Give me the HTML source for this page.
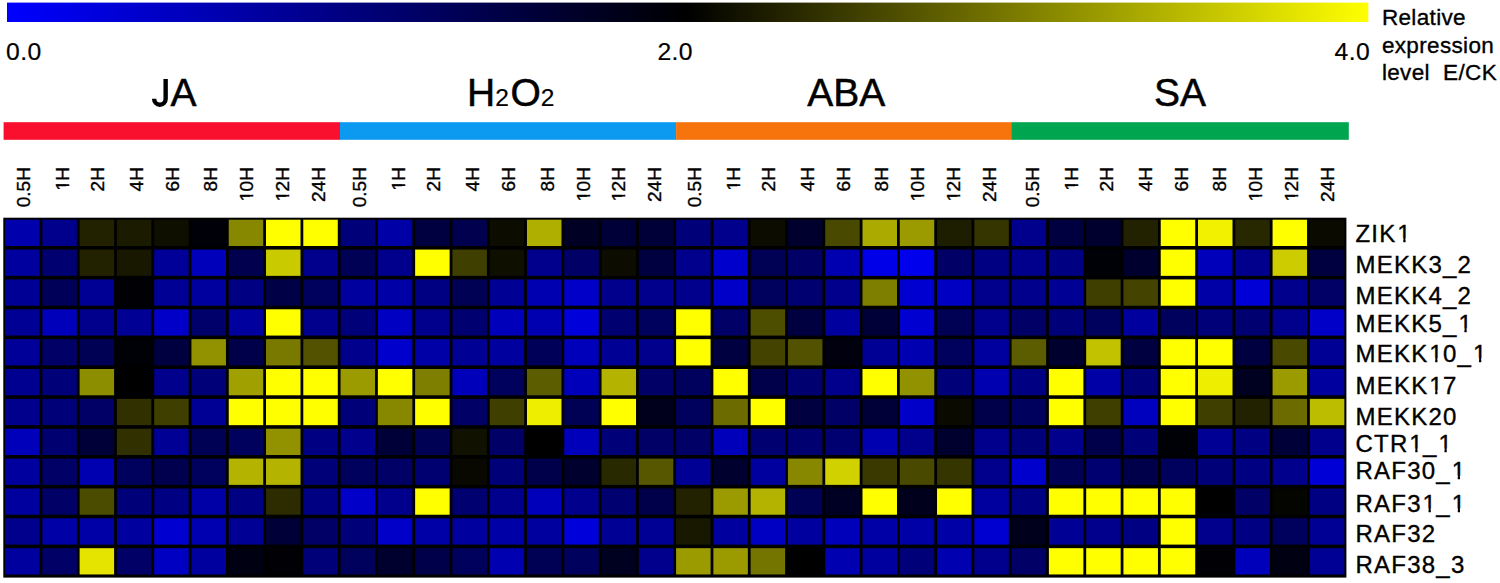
<!DOCTYPE html>
<html><head><meta charset="utf-8"><title>heatmap</title>
<style>
html,body{margin:0;padding:0;background:#fff;}
body{width:1500px;height:583px;position:relative;overflow:hidden;font-family:"Liberation Sans",sans-serif;color:#000;}
svg{position:absolute;left:0;top:0;}
.t{position:absolute;white-space:pre;line-height:1;}
.num{font-size:24.7px;letter-spacing:0.4px;-webkit-text-stroke:0.2px #000;}
.grp{font-size:39px;-webkit-text-stroke:0.5px #000;}
.leg{font-size:22.5px;letter-spacing:0.35px;-webkit-text-stroke:0.35px #000;}
.row{font-size:24px;letter-spacing:1.25px;left:1355.4px;-webkit-text-stroke:0.35px #000;}
.cl{font-size:19.1px;transform-origin:0 0;transform:rotate(-90deg);width:60px;text-align:right;letter-spacing:0px;-webkit-text-stroke:0.35px #000;}
.o{display:inline-block;position:relative;left:0.035em;clip-path:polygon(-0.1em -0.3em,1.2em -0.3em,1.2em 0.69em,0.3415em 0.69em,0.3415em 1.3em,0.2505em 1.3em,0.2505em 0.69em,-0.1em 0.69em);}
.sub{font-size:24.5px;-webkit-text-stroke:0.2px #000;}
</style></head><body>
<svg width="1500" height="583" viewBox="0 0 1500 583" shape-rendering="auto">
<defs><linearGradient id="g" x1="0" x2="1" y1="0" y2="0"><stop offset="0" stop-color="#0000ff"/><stop offset="0.5" stop-color="#000000"/><stop offset="1" stop-color="#ffff00"/></linearGradient></defs>
<rect x="7" y="2.6" width="1361.3" height="19.4" fill="url(#g)"/>
<rect x="3.6" y="122.2" width="336.4" height="17.6" fill="#f9102e"/>
<rect x="340.0" y="122.2" width="336.1" height="17.6" fill="#0c9af0"/>
<rect x="676.1" y="122.2" width="335.1" height="17.6" fill="#f7730c"/>
<rect x="1011.2" y="122.2" width="337.6" height="17.6" fill="#00a550"/>
<rect x="3.3" y="217.7" width="1343.1" height="359.9" fill="#000"/>
<g><rect x="5.05" y="219.70" width="34.5" height="26.3" fill="#0000ac"/><rect x="42.33" y="219.70" width="34.5" height="26.3" fill="#00008c"/><rect x="79.61" y="219.70" width="34.5" height="26.3" fill="#222200"/><rect x="116.89" y="219.70" width="34.5" height="26.3" fill="#1b1b00"/><rect x="154.17" y="219.70" width="34.5" height="26.3" fill="#0f0f00"/><rect x="191.45" y="219.70" width="34.5" height="26.3" fill="#000009"/><rect x="228.73" y="219.70" width="34.5" height="26.3" fill="#888800"/><rect x="266.01" y="219.70" width="34.5" height="26.3" fill="#ffff00"/><rect x="303.29" y="219.70" width="34.5" height="26.3" fill="#ffff00"/><rect x="340.57" y="219.70" width="34.5" height="26.3" fill="#000079"/><rect x="377.85" y="219.70" width="34.5" height="26.3" fill="#0000a7"/><rect x="415.13" y="219.70" width="34.5" height="26.3" fill="#000041"/><rect x="452.41" y="219.70" width="34.5" height="26.3" fill="#00004f"/><rect x="489.69" y="219.70" width="34.5" height="26.3" fill="#0c0c00"/><rect x="526.97" y="219.70" width="34.5" height="26.3" fill="#afaf00"/><rect x="564.25" y="219.70" width="34.5" height="26.3" fill="#000025"/><rect x="601.53" y="219.70" width="34.5" height="26.3" fill="#000038"/><rect x="638.81" y="219.70" width="34.5" height="26.3" fill="#000038"/><rect x="676.09" y="219.70" width="34.5" height="26.3" fill="#000079"/><rect x="713.37" y="219.70" width="34.5" height="26.3" fill="#00008c"/><rect x="750.65" y="219.70" width="34.5" height="26.3" fill="#0c0c00"/><rect x="787.93" y="219.70" width="34.5" height="26.3" fill="#00002e"/><rect x="825.21" y="219.70" width="34.5" height="26.3" fill="#494900"/><rect x="862.49" y="219.70" width="34.5" height="26.3" fill="#aaaa00"/><rect x="899.77" y="219.70" width="34.5" height="26.3" fill="#9b9b00"/><rect x="937.05" y="219.70" width="34.5" height="26.3" fill="#1d1d00"/><rect x="974.33" y="219.70" width="34.5" height="26.3" fill="#353500"/><rect x="1011.61" y="219.70" width="34.5" height="26.3" fill="#00008c"/><rect x="1048.89" y="219.70" width="34.5" height="26.3" fill="#000041"/><rect x="1086.17" y="219.70" width="34.5" height="26.3" fill="#00002e"/><rect x="1123.45" y="219.70" width="34.5" height="26.3" fill="#222200"/><rect x="1160.73" y="219.70" width="34.5" height="26.3" fill="#ffff00"/><rect x="1198.01" y="219.70" width="34.5" height="26.3" fill="#f1f100"/><rect x="1235.29" y="219.70" width="34.5" height="26.3" fill="#272700"/><rect x="1272.57" y="219.70" width="34.5" height="26.3" fill="#ffff00"/><rect x="1309.85" y="219.70" width="34.5" height="26.3" fill="#0a0a00"/></g>
<g><rect x="5.05" y="249.56" width="34.5" height="26.3" fill="#00009e"/><rect x="42.33" y="249.56" width="34.5" height="26.3" fill="#000070"/><rect x="79.61" y="249.56" width="34.5" height="26.3" fill="#222200"/><rect x="116.89" y="249.56" width="34.5" height="26.3" fill="#181800"/><rect x="154.17" y="249.56" width="34.5" height="26.3" fill="#000099"/><rect x="191.45" y="249.56" width="34.5" height="26.3" fill="#0000ba"/><rect x="228.73" y="249.56" width="34.5" height="26.3" fill="#00004f"/><rect x="266.01" y="249.56" width="34.5" height="26.3" fill="#caca00"/><rect x="303.29" y="249.56" width="34.5" height="26.3" fill="#00008c"/><rect x="340.57" y="249.56" width="34.5" height="26.3" fill="#000054"/><rect x="377.85" y="249.56" width="34.5" height="26.3" fill="#00008c"/><rect x="415.13" y="249.56" width="34.5" height="26.3" fill="#ffff00"/><rect x="452.41" y="249.56" width="34.5" height="26.3" fill="#3f3f00"/><rect x="489.69" y="249.56" width="34.5" height="26.3" fill="#0f0f00"/><rect x="526.97" y="249.56" width="34.5" height="26.3" fill="#00008c"/><rect x="564.25" y="249.56" width="34.5" height="26.3" fill="#000066"/><rect x="601.53" y="249.56" width="34.5" height="26.3" fill="#0c0c00"/><rect x="638.81" y="249.56" width="34.5" height="26.3" fill="#000041"/><rect x="676.09" y="249.56" width="34.5" height="26.3" fill="#00008c"/><rect x="713.37" y="249.56" width="34.5" height="26.3" fill="#0000cd"/><rect x="750.65" y="249.56" width="34.5" height="26.3" fill="#000054"/><rect x="787.93" y="249.56" width="34.5" height="26.3" fill="#000066"/><rect x="825.21" y="249.56" width="34.5" height="26.3" fill="#0000b1"/><rect x="862.49" y="249.56" width="34.5" height="26.3" fill="#0000e8"/><rect x="899.77" y="249.56" width="34.5" height="26.3" fill="#0000ec"/><rect x="937.05" y="249.56" width="34.5" height="26.3" fill="#000066"/><rect x="974.33" y="249.56" width="34.5" height="26.3" fill="#000082"/><rect x="1011.61" y="249.56" width="34.5" height="26.3" fill="#00008c"/><rect x="1048.89" y="249.56" width="34.5" height="26.3" fill="#000082"/><rect x="1086.17" y="249.56" width="34.5" height="26.3" fill="#000007"/><rect x="1123.45" y="249.56" width="34.5" height="26.3" fill="#00002e"/><rect x="1160.73" y="249.56" width="34.5" height="26.3" fill="#ffff00"/><rect x="1198.01" y="249.56" width="34.5" height="26.3" fill="#0000ba"/><rect x="1235.29" y="249.56" width="34.5" height="26.3" fill="#00008c"/><rect x="1272.57" y="249.56" width="34.5" height="26.3" fill="#cccc00"/><rect x="1309.85" y="249.56" width="34.5" height="26.3" fill="#000041"/></g>
<g><rect x="5.05" y="279.42" width="34.5" height="26.3" fill="#000095"/><rect x="42.33" y="279.42" width="34.5" height="26.3" fill="#000058"/><rect x="79.61" y="279.42" width="34.5" height="26.3" fill="#000095"/><rect x="116.89" y="279.42" width="34.5" height="26.3" fill="#000005"/><rect x="154.17" y="279.42" width="34.5" height="26.3" fill="#000095"/><rect x="191.45" y="279.42" width="34.5" height="26.3" fill="#00009e"/><rect x="228.73" y="279.42" width="34.5" height="26.3" fill="#000082"/><rect x="266.01" y="279.42" width="34.5" height="26.3" fill="#000046"/><rect x="303.29" y="279.42" width="34.5" height="26.3" fill="#00005d"/><rect x="340.57" y="279.42" width="34.5" height="26.3" fill="#00009e"/><rect x="377.85" y="279.42" width="34.5" height="26.3" fill="#0000a7"/><rect x="415.13" y="279.42" width="34.5" height="26.3" fill="#000082"/><rect x="452.41" y="279.42" width="34.5" height="26.3" fill="#000054"/><rect x="489.69" y="279.42" width="34.5" height="26.3" fill="#000095"/><rect x="526.97" y="279.42" width="34.5" height="26.3" fill="#0000b1"/><rect x="564.25" y="279.42" width="34.5" height="26.3" fill="#0000c8"/><rect x="601.53" y="279.42" width="34.5" height="26.3" fill="#00008c"/><rect x="638.81" y="279.42" width="34.5" height="26.3" fill="#00008c"/><rect x="676.09" y="279.42" width="34.5" height="26.3" fill="#00008c"/><rect x="713.37" y="279.42" width="34.5" height="26.3" fill="#0000c8"/><rect x="750.65" y="279.42" width="34.5" height="26.3" fill="#00005d"/><rect x="787.93" y="279.42" width="34.5" height="26.3" fill="#000070"/><rect x="825.21" y="279.42" width="34.5" height="26.3" fill="#00008c"/><rect x="862.49" y="279.42" width="34.5" height="26.3" fill="#7e7e00"/><rect x="899.77" y="279.42" width="34.5" height="26.3" fill="#0000d1"/><rect x="937.05" y="279.42" width="34.5" height="26.3" fill="#0000c3"/><rect x="974.33" y="279.42" width="34.5" height="26.3" fill="#00008c"/><rect x="1011.61" y="279.42" width="34.5" height="26.3" fill="#00008c"/><rect x="1048.89" y="279.42" width="34.5" height="26.3" fill="#000095"/><rect x="1086.17" y="279.42" width="34.5" height="26.3" fill="#3f3f00"/><rect x="1123.45" y="279.42" width="34.5" height="26.3" fill="#444400"/><rect x="1160.73" y="279.42" width="34.5" height="26.3" fill="#ffff00"/><rect x="1198.01" y="279.42" width="34.5" height="26.3" fill="#0000a7"/><rect x="1235.29" y="279.42" width="34.5" height="26.3" fill="#0000d6"/><rect x="1272.57" y="279.42" width="34.5" height="26.3" fill="#00008c"/><rect x="1309.85" y="279.42" width="34.5" height="26.3" fill="#000066"/></g>
<g><rect x="5.05" y="309.28" width="34.5" height="26.3" fill="#000095"/><rect x="42.33" y="309.28" width="34.5" height="26.3" fill="#0000ba"/><rect x="79.61" y="309.28" width="34.5" height="26.3" fill="#00008c"/><rect x="116.89" y="309.28" width="34.5" height="26.3" fill="#000095"/><rect x="154.17" y="309.28" width="34.5" height="26.3" fill="#0000c8"/><rect x="191.45" y="309.28" width="34.5" height="26.3" fill="#00006b"/><rect x="228.73" y="309.28" width="34.5" height="26.3" fill="#00009e"/><rect x="266.01" y="309.28" width="34.5" height="26.3" fill="#ffff00"/><rect x="303.29" y="309.28" width="34.5" height="26.3" fill="#00008c"/><rect x="340.57" y="309.28" width="34.5" height="26.3" fill="#000079"/><rect x="377.85" y="309.28" width="34.5" height="26.3" fill="#0000c3"/><rect x="415.13" y="309.28" width="34.5" height="26.3" fill="#00008c"/><rect x="452.41" y="309.28" width="34.5" height="26.3" fill="#000070"/><rect x="489.69" y="309.28" width="34.5" height="26.3" fill="#0000ba"/><rect x="526.97" y="309.28" width="34.5" height="26.3" fill="#0000b1"/><rect x="564.25" y="309.28" width="34.5" height="26.3" fill="#0000db"/><rect x="601.53" y="309.28" width="34.5" height="26.3" fill="#000070"/><rect x="638.81" y="309.28" width="34.5" height="26.3" fill="#00005d"/><rect x="676.09" y="309.28" width="34.5" height="26.3" fill="#ffff00"/><rect x="713.37" y="309.28" width="34.5" height="26.3" fill="#000066"/><rect x="750.65" y="309.28" width="34.5" height="26.3" fill="#4e4e00"/><rect x="787.93" y="309.28" width="34.5" height="26.3" fill="#000041"/><rect x="825.21" y="309.28" width="34.5" height="26.3" fill="#00009e"/><rect x="862.49" y="309.28" width="34.5" height="26.3" fill="#000038"/><rect x="899.77" y="309.28" width="34.5" height="26.3" fill="#0000d1"/><rect x="937.05" y="309.28" width="34.5" height="26.3" fill="#000054"/><rect x="974.33" y="309.28" width="34.5" height="26.3" fill="#00008c"/><rect x="1011.61" y="309.28" width="34.5" height="26.3" fill="#000066"/><rect x="1048.89" y="309.28" width="34.5" height="26.3" fill="#000079"/><rect x="1086.17" y="309.28" width="34.5" height="26.3" fill="#00005d"/><rect x="1123.45" y="309.28" width="34.5" height="26.3" fill="#00009e"/><rect x="1160.73" y="309.28" width="34.5" height="26.3" fill="#00005d"/><rect x="1198.01" y="309.28" width="34.5" height="26.3" fill="#000079"/><rect x="1235.29" y="309.28" width="34.5" height="26.3" fill="#000070"/><rect x="1272.57" y="309.28" width="34.5" height="26.3" fill="#00008c"/><rect x="1309.85" y="309.28" width="34.5" height="26.3" fill="#0000c8"/></g>
<g><rect x="5.05" y="339.14" width="34.5" height="26.3" fill="#000099"/><rect x="42.33" y="339.14" width="34.5" height="26.3" fill="#000066"/><rect x="79.61" y="339.14" width="34.5" height="26.3" fill="#000054"/><rect x="116.89" y="339.14" width="34.5" height="26.3" fill="#000007"/><rect x="154.17" y="339.14" width="34.5" height="26.3" fill="#000041"/><rect x="191.45" y="339.14" width="34.5" height="26.3" fill="#929200"/><rect x="228.73" y="339.14" width="34.5" height="26.3" fill="#00004a"/><rect x="266.01" y="339.14" width="34.5" height="26.3" fill="#797900"/><rect x="303.29" y="339.14" width="34.5" height="26.3" fill="#525200"/><rect x="340.57" y="339.14" width="34.5" height="26.3" fill="#00008c"/><rect x="377.85" y="339.14" width="34.5" height="26.3" fill="#0000cd"/><rect x="415.13" y="339.14" width="34.5" height="26.3" fill="#0000a7"/><rect x="452.41" y="339.14" width="34.5" height="26.3" fill="#000095"/><rect x="489.69" y="339.14" width="34.5" height="26.3" fill="#00009e"/><rect x="526.97" y="339.14" width="34.5" height="26.3" fill="#000058"/><rect x="564.25" y="339.14" width="34.5" height="26.3" fill="#0000ba"/><rect x="601.53" y="339.14" width="34.5" height="26.3" fill="#000095"/><rect x="638.81" y="339.14" width="34.5" height="26.3" fill="#00008c"/><rect x="676.09" y="339.14" width="34.5" height="26.3" fill="#ffff00"/><rect x="713.37" y="339.14" width="34.5" height="26.3" fill="#000041"/><rect x="750.65" y="339.14" width="34.5" height="26.3" fill="#444400"/><rect x="787.93" y="339.14" width="34.5" height="26.3" fill="#525200"/><rect x="825.21" y="339.14" width="34.5" height="26.3" fill="#00000e"/><rect x="862.49" y="339.14" width="34.5" height="26.3" fill="#000095"/><rect x="899.77" y="339.14" width="34.5" height="26.3" fill="#0000b1"/><rect x="937.05" y="339.14" width="34.5" height="26.3" fill="#00005d"/><rect x="974.33" y="339.14" width="34.5" height="26.3" fill="#00009e"/><rect x="1011.61" y="339.14" width="34.5" height="26.3" fill="#5c5c00"/><rect x="1048.89" y="339.14" width="34.5" height="26.3" fill="#00002e"/><rect x="1086.17" y="339.14" width="34.5" height="26.3" fill="#c2c200"/><rect x="1123.45" y="339.14" width="34.5" height="26.3" fill="#000041"/><rect x="1160.73" y="339.14" width="34.5" height="26.3" fill="#ffff00"/><rect x="1198.01" y="339.14" width="34.5" height="26.3" fill="#ffff00"/><rect x="1235.29" y="339.14" width="34.5" height="26.3" fill="#000041"/><rect x="1272.57" y="339.14" width="34.5" height="26.3" fill="#494900"/><rect x="1309.85" y="339.14" width="34.5" height="26.3" fill="#000095"/></g>
<g><rect x="5.05" y="369.00" width="34.5" height="26.3" fill="#000090"/><rect x="42.33" y="369.00" width="34.5" height="26.3" fill="#000079"/><rect x="79.61" y="369.00" width="34.5" height="26.3" fill="#8d8d00"/><rect x="116.89" y="369.00" width="34.5" height="26.3" fill="#000000"/><rect x="154.17" y="369.00" width="34.5" height="26.3" fill="#00008c"/><rect x="191.45" y="369.00" width="34.5" height="26.3" fill="#000079"/><rect x="228.73" y="369.00" width="34.5" height="26.3" fill="#a0a000"/><rect x="266.01" y="369.00" width="34.5" height="26.3" fill="#ffff00"/><rect x="303.29" y="369.00" width="34.5" height="26.3" fill="#ffff00"/><rect x="340.57" y="369.00" width="34.5" height="26.3" fill="#9b9b00"/><rect x="377.85" y="369.00" width="34.5" height="26.3" fill="#ffff00"/><rect x="415.13" y="369.00" width="34.5" height="26.3" fill="#7e7e00"/><rect x="452.41" y="369.00" width="34.5" height="26.3" fill="#0000ba"/><rect x="489.69" y="369.00" width="34.5" height="26.3" fill="#00005d"/><rect x="526.97" y="369.00" width="34.5" height="26.3" fill="#5c5c00"/><rect x="564.25" y="369.00" width="34.5" height="26.3" fill="#0000ba"/><rect x="601.53" y="369.00" width="34.5" height="26.3" fill="#b3b300"/><rect x="638.81" y="369.00" width="34.5" height="26.3" fill="#000066"/><rect x="676.09" y="369.00" width="34.5" height="26.3" fill="#00005d"/><rect x="713.37" y="369.00" width="34.5" height="26.3" fill="#ffff00"/><rect x="750.65" y="369.00" width="34.5" height="26.3" fill="#00004a"/><rect x="787.93" y="369.00" width="34.5" height="26.3" fill="#000070"/><rect x="825.21" y="369.00" width="34.5" height="26.3" fill="#00008c"/><rect x="862.49" y="369.00" width="34.5" height="26.3" fill="#ffff00"/><rect x="899.77" y="369.00" width="34.5" height="26.3" fill="#929200"/><rect x="937.05" y="369.00" width="34.5" height="26.3" fill="#000079"/><rect x="974.33" y="369.00" width="34.5" height="26.3" fill="#0000b1"/><rect x="1011.61" y="369.00" width="34.5" height="26.3" fill="#000082"/><rect x="1048.89" y="369.00" width="34.5" height="26.3" fill="#ffff00"/><rect x="1086.17" y="369.00" width="34.5" height="26.3" fill="#0000a7"/><rect x="1123.45" y="369.00" width="34.5" height="26.3" fill="#000079"/><rect x="1160.73" y="369.00" width="34.5" height="26.3" fill="#ffff00"/><rect x="1198.01" y="369.00" width="34.5" height="26.3" fill="#eeee00"/><rect x="1235.29" y="369.00" width="34.5" height="26.3" fill="#000021"/><rect x="1272.57" y="369.00" width="34.5" height="26.3" fill="#9b9b00"/><rect x="1309.85" y="369.00" width="34.5" height="26.3" fill="#00009e"/></g>
<g><rect x="5.05" y="398.86" width="34.5" height="26.3" fill="#00008c"/><rect x="42.33" y="398.86" width="34.5" height="26.3" fill="#000079"/><rect x="79.61" y="398.86" width="34.5" height="26.3" fill="#000066"/><rect x="116.89" y="398.86" width="34.5" height="26.3" fill="#303000"/><rect x="154.17" y="398.86" width="34.5" height="26.3" fill="#3f3f00"/><rect x="191.45" y="398.86" width="34.5" height="26.3" fill="#000095"/><rect x="228.73" y="398.86" width="34.5" height="26.3" fill="#ffff00"/><rect x="266.01" y="398.86" width="34.5" height="26.3" fill="#ffff00"/><rect x="303.29" y="398.86" width="34.5" height="26.3" fill="#ffff00"/><rect x="340.57" y="398.86" width="34.5" height="26.3" fill="#000079"/><rect x="377.85" y="398.86" width="34.5" height="26.3" fill="#888800"/><rect x="415.13" y="398.86" width="34.5" height="26.3" fill="#ffff00"/><rect x="452.41" y="398.86" width="34.5" height="26.3" fill="#000066"/><rect x="489.69" y="398.86" width="34.5" height="26.3" fill="#3f3f00"/><rect x="526.97" y="398.86" width="34.5" height="26.3" fill="#eeee00"/><rect x="564.25" y="398.86" width="34.5" height="26.3" fill="#000054"/><rect x="601.53" y="398.86" width="34.5" height="26.3" fill="#ffff00"/><rect x="638.81" y="398.86" width="34.5" height="26.3" fill="#00001c"/><rect x="676.09" y="398.86" width="34.5" height="26.3" fill="#00005d"/><rect x="713.37" y="398.86" width="34.5" height="26.3" fill="#6b6b00"/><rect x="750.65" y="398.86" width="34.5" height="26.3" fill="#ffff00"/><rect x="787.93" y="398.86" width="34.5" height="26.3" fill="#000041"/><rect x="825.21" y="398.86" width="34.5" height="26.3" fill="#000066"/><rect x="862.49" y="398.86" width="34.5" height="26.3" fill="#000038"/><rect x="899.77" y="398.86" width="34.5" height="26.3" fill="#0000c8"/><rect x="937.05" y="398.86" width="34.5" height="26.3" fill="#0a0a00"/><rect x="974.33" y="398.86" width="34.5" height="26.3" fill="#00004a"/><rect x="1011.61" y="398.86" width="34.5" height="26.3" fill="#00005d"/><rect x="1048.89" y="398.86" width="34.5" height="26.3" fill="#ffff00"/><rect x="1086.17" y="398.86" width="34.5" height="26.3" fill="#3f3f00"/><rect x="1123.45" y="398.86" width="34.5" height="26.3" fill="#0000bf"/><rect x="1160.73" y="398.86" width="34.5" height="26.3" fill="#ffff00"/><rect x="1198.01" y="398.86" width="34.5" height="26.3" fill="#3f3f00"/><rect x="1235.29" y="398.86" width="34.5" height="26.3" fill="#222200"/><rect x="1272.57" y="398.86" width="34.5" height="26.3" fill="#6b6b00"/><rect x="1309.85" y="398.86" width="34.5" height="26.3" fill="#bdbd00"/></g>
<g><rect x="5.05" y="428.72" width="34.5" height="26.3" fill="#0000ba"/><rect x="42.33" y="428.72" width="34.5" height="26.3" fill="#000070"/><rect x="79.61" y="428.72" width="34.5" height="26.3" fill="#000038"/><rect x="116.89" y="428.72" width="34.5" height="26.3" fill="#303000"/><rect x="154.17" y="428.72" width="34.5" height="26.3" fill="#000095"/><rect x="191.45" y="428.72" width="34.5" height="26.3" fill="#000054"/><rect x="228.73" y="428.72" width="34.5" height="26.3" fill="#00005d"/><rect x="266.01" y="428.72" width="34.5" height="26.3" fill="#929200"/><rect x="303.29" y="428.72" width="34.5" height="26.3" fill="#000082"/><rect x="340.57" y="428.72" width="34.5" height="26.3" fill="#00008c"/><rect x="377.85" y="428.72" width="34.5" height="26.3" fill="#000038"/><rect x="415.13" y="428.72" width="34.5" height="26.3" fill="#000054"/><rect x="452.41" y="428.72" width="34.5" height="26.3" fill="#111100"/><rect x="489.69" y="428.72" width="34.5" height="26.3" fill="#000066"/><rect x="526.97" y="428.72" width="34.5" height="26.3" fill="#000000"/><rect x="564.25" y="428.72" width="34.5" height="26.3" fill="#0000ba"/><rect x="601.53" y="428.72" width="34.5" height="26.3" fill="#000079"/><rect x="638.81" y="428.72" width="34.5" height="26.3" fill="#000066"/><rect x="676.09" y="428.72" width="34.5" height="26.3" fill="#000066"/><rect x="713.37" y="428.72" width="34.5" height="26.3" fill="#0000ba"/><rect x="750.65" y="428.72" width="34.5" height="26.3" fill="#000070"/><rect x="787.93" y="428.72" width="34.5" height="26.3" fill="#000070"/><rect x="825.21" y="428.72" width="34.5" height="26.3" fill="#000070"/><rect x="862.49" y="428.72" width="34.5" height="26.3" fill="#0000b1"/><rect x="899.77" y="428.72" width="34.5" height="26.3" fill="#00008c"/><rect x="937.05" y="428.72" width="34.5" height="26.3" fill="#00002e"/><rect x="974.33" y="428.72" width="34.5" height="26.3" fill="#00008c"/><rect x="1011.61" y="428.72" width="34.5" height="26.3" fill="#000079"/><rect x="1048.89" y="428.72" width="34.5" height="26.3" fill="#00008c"/><rect x="1086.17" y="428.72" width="34.5" height="26.3" fill="#00004a"/><rect x="1123.45" y="428.72" width="34.5" height="26.3" fill="#000079"/><rect x="1160.73" y="428.72" width="34.5" height="26.3" fill="#000007"/><rect x="1198.01" y="428.72" width="34.5" height="26.3" fill="#000095"/><rect x="1235.29" y="428.72" width="34.5" height="26.3" fill="#000082"/><rect x="1272.57" y="428.72" width="34.5" height="26.3" fill="#000038"/><rect x="1309.85" y="428.72" width="34.5" height="26.3" fill="#00008c"/></g>
<g><rect x="5.05" y="458.58" width="34.5" height="26.3" fill="#00009e"/><rect x="42.33" y="458.58" width="34.5" height="26.3" fill="#000066"/><rect x="79.61" y="458.58" width="34.5" height="26.3" fill="#0000b1"/><rect x="116.89" y="458.58" width="34.5" height="26.3" fill="#00005d"/><rect x="154.17" y="458.58" width="34.5" height="26.3" fill="#00004f"/><rect x="191.45" y="458.58" width="34.5" height="26.3" fill="#00005d"/><rect x="228.73" y="458.58" width="34.5" height="26.3" fill="#b3b300"/><rect x="266.01" y="458.58" width="34.5" height="26.3" fill="#b3b300"/><rect x="303.29" y="458.58" width="34.5" height="26.3" fill="#000079"/><rect x="340.57" y="458.58" width="34.5" height="26.3" fill="#00005d"/><rect x="377.85" y="458.58" width="34.5" height="26.3" fill="#000066"/><rect x="415.13" y="458.58" width="34.5" height="26.3" fill="#000070"/><rect x="452.41" y="458.58" width="34.5" height="26.3" fill="#080800"/><rect x="489.69" y="458.58" width="34.5" height="26.3" fill="#000079"/><rect x="526.97" y="458.58" width="34.5" height="26.3" fill="#00004a"/><rect x="564.25" y="458.58" width="34.5" height="26.3" fill="#00002e"/><rect x="601.53" y="458.58" width="34.5" height="26.3" fill="#292900"/><rect x="638.81" y="458.58" width="34.5" height="26.3" fill="#575700"/><rect x="676.09" y="458.58" width="34.5" height="26.3" fill="#000095"/><rect x="713.37" y="458.58" width="34.5" height="26.3" fill="#00002e"/><rect x="750.65" y="458.58" width="34.5" height="26.3" fill="#00009e"/><rect x="787.93" y="458.58" width="34.5" height="26.3" fill="#888800"/><rect x="825.21" y="458.58" width="34.5" height="26.3" fill="#d1d100"/><rect x="862.49" y="458.58" width="34.5" height="26.3" fill="#3a3a00"/><rect x="899.77" y="458.58" width="34.5" height="26.3" fill="#494900"/><rect x="937.05" y="458.58" width="34.5" height="26.3" fill="#353500"/><rect x="974.33" y="458.58" width="34.5" height="26.3" fill="#00008c"/><rect x="1011.61" y="458.58" width="34.5" height="26.3" fill="#0000cd"/><rect x="1048.89" y="458.58" width="34.5" height="26.3" fill="#000054"/><rect x="1086.17" y="458.58" width="34.5" height="26.3" fill="#000070"/><rect x="1123.45" y="458.58" width="34.5" height="26.3" fill="#00004a"/><rect x="1160.73" y="458.58" width="34.5" height="26.3" fill="#00005d"/><rect x="1198.01" y="458.58" width="34.5" height="26.3" fill="#000079"/><rect x="1235.29" y="458.58" width="34.5" height="26.3" fill="#000082"/><rect x="1272.57" y="458.58" width="34.5" height="26.3" fill="#00008c"/><rect x="1309.85" y="458.58" width="34.5" height="26.3" fill="#0000d6"/></g>
<g><rect x="5.05" y="488.44" width="34.5" height="26.3" fill="#00009e"/><rect x="42.33" y="488.44" width="34.5" height="26.3" fill="#000066"/><rect x="79.61" y="488.44" width="34.5" height="26.3" fill="#4c4c00"/><rect x="116.89" y="488.44" width="34.5" height="26.3" fill="#000079"/><rect x="154.17" y="488.44" width="34.5" height="26.3" fill="#000082"/><rect x="191.45" y="488.44" width="34.5" height="26.3" fill="#0000a7"/><rect x="228.73" y="488.44" width="34.5" height="26.3" fill="#000082"/><rect x="266.01" y="488.44" width="34.5" height="26.3" fill="#2c2c00"/><rect x="303.29" y="488.44" width="34.5" height="26.3" fill="#000082"/><rect x="340.57" y="488.44" width="34.5" height="26.3" fill="#0000c8"/><rect x="377.85" y="488.44" width="34.5" height="26.3" fill="#00008c"/><rect x="415.13" y="488.44" width="34.5" height="26.3" fill="#ffff00"/><rect x="452.41" y="488.44" width="34.5" height="26.3" fill="#000070"/><rect x="489.69" y="488.44" width="34.5" height="26.3" fill="#00008c"/><rect x="526.97" y="488.44" width="34.5" height="26.3" fill="#0000ba"/><rect x="564.25" y="488.44" width="34.5" height="26.3" fill="#00008c"/><rect x="601.53" y="488.44" width="34.5" height="26.3" fill="#000070"/><rect x="638.81" y="488.44" width="34.5" height="26.3" fill="#00004a"/><rect x="676.09" y="488.44" width="34.5" height="26.3" fill="#222200"/><rect x="713.37" y="488.44" width="34.5" height="26.3" fill="#9b9b00"/><rect x="750.65" y="488.44" width="34.5" height="26.3" fill="#b3b300"/><rect x="787.93" y="488.44" width="34.5" height="26.3" fill="#000054"/><rect x="825.21" y="488.44" width="34.5" height="26.3" fill="#000025"/><rect x="862.49" y="488.44" width="34.5" height="26.3" fill="#ffff00"/><rect x="899.77" y="488.44" width="34.5" height="26.3" fill="#00001c"/><rect x="937.05" y="488.44" width="34.5" height="26.3" fill="#ffff00"/><rect x="974.33" y="488.44" width="34.5" height="26.3" fill="#00009e"/><rect x="1011.61" y="488.44" width="34.5" height="26.3" fill="#000082"/><rect x="1048.89" y="488.44" width="34.5" height="26.3" fill="#ffff00"/><rect x="1086.17" y="488.44" width="34.5" height="26.3" fill="#ffff00"/><rect x="1123.45" y="488.44" width="34.5" height="26.3" fill="#ffff00"/><rect x="1160.73" y="488.44" width="34.5" height="26.3" fill="#ffff00"/><rect x="1198.01" y="488.44" width="34.5" height="26.3" fill="#000000"/><rect x="1235.29" y="488.44" width="34.5" height="26.3" fill="#000066"/><rect x="1272.57" y="488.44" width="34.5" height="26.3" fill="#050500"/><rect x="1309.85" y="488.44" width="34.5" height="26.3" fill="#000082"/></g>
<g><rect x="5.05" y="518.30" width="34.5" height="26.3" fill="#00008c"/><rect x="42.33" y="518.30" width="34.5" height="26.3" fill="#0000a7"/><rect x="79.61" y="518.30" width="34.5" height="26.3" fill="#0000a7"/><rect x="116.89" y="518.30" width="34.5" height="26.3" fill="#00009e"/><rect x="154.17" y="518.30" width="34.5" height="26.3" fill="#0000d1"/><rect x="191.45" y="518.30" width="34.5" height="26.3" fill="#0000b1"/><rect x="228.73" y="518.30" width="34.5" height="26.3" fill="#000095"/><rect x="266.01" y="518.30" width="34.5" height="26.3" fill="#000038"/><rect x="303.29" y="518.30" width="34.5" height="26.3" fill="#000066"/><rect x="340.57" y="518.30" width="34.5" height="26.3" fill="#000079"/><rect x="377.85" y="518.30" width="34.5" height="26.3" fill="#0000c8"/><rect x="415.13" y="518.30" width="34.5" height="26.3" fill="#0000a7"/><rect x="452.41" y="518.30" width="34.5" height="26.3" fill="#00009e"/><rect x="489.69" y="518.30" width="34.5" height="26.3" fill="#0000a7"/><rect x="526.97" y="518.30" width="34.5" height="26.3" fill="#00009e"/><rect x="564.25" y="518.30" width="34.5" height="26.3" fill="#0000db"/><rect x="601.53" y="518.30" width="34.5" height="26.3" fill="#000095"/><rect x="638.81" y="518.30" width="34.5" height="26.3" fill="#000095"/><rect x="676.09" y="518.30" width="34.5" height="26.3" fill="#181800"/><rect x="713.37" y="518.30" width="34.5" height="26.3" fill="#00009e"/><rect x="750.65" y="518.30" width="34.5" height="26.3" fill="#0000c3"/><rect x="787.93" y="518.30" width="34.5" height="26.3" fill="#00009e"/><rect x="825.21" y="518.30" width="34.5" height="26.3" fill="#0000ba"/><rect x="862.49" y="518.30" width="34.5" height="26.3" fill="#0000a7"/><rect x="899.77" y="518.30" width="34.5" height="26.3" fill="#0000a7"/><rect x="937.05" y="518.30" width="34.5" height="26.3" fill="#0000a7"/><rect x="974.33" y="518.30" width="34.5" height="26.3" fill="#0000d1"/><rect x="1011.61" y="518.30" width="34.5" height="26.3" fill="#00001c"/><rect x="1048.89" y="518.30" width="34.5" height="26.3" fill="#000095"/><rect x="1086.17" y="518.30" width="34.5" height="26.3" fill="#00008c"/><rect x="1123.45" y="518.30" width="34.5" height="26.3" fill="#000082"/><rect x="1160.73" y="518.30" width="34.5" height="26.3" fill="#ffff00"/><rect x="1198.01" y="518.30" width="34.5" height="26.3" fill="#00008c"/><rect x="1235.29" y="518.30" width="34.5" height="26.3" fill="#000082"/><rect x="1272.57" y="518.30" width="34.5" height="26.3" fill="#00005d"/><rect x="1309.85" y="518.30" width="34.5" height="26.3" fill="#000095"/></g>
<g><rect x="5.05" y="548.16" width="34.5" height="26.3" fill="#00009e"/><rect x="42.33" y="548.16" width="34.5" height="26.3" fill="#000066"/><rect x="79.61" y="548.16" width="34.5" height="26.3" fill="#e4e400"/><rect x="116.89" y="548.16" width="34.5" height="26.3" fill="#000066"/><rect x="154.17" y="548.16" width="34.5" height="26.3" fill="#0000c3"/><rect x="191.45" y="548.16" width="34.5" height="26.3" fill="#00009e"/><rect x="228.73" y="548.16" width="34.5" height="26.3" fill="#000013"/><rect x="266.01" y="548.16" width="34.5" height="26.3" fill="#000005"/><rect x="303.29" y="548.16" width="34.5" height="26.3" fill="#000079"/><rect x="340.57" y="548.16" width="34.5" height="26.3" fill="#00005d"/><rect x="377.85" y="548.16" width="34.5" height="26.3" fill="#00002e"/><rect x="415.13" y="548.16" width="34.5" height="26.3" fill="#00004a"/><rect x="452.41" y="548.16" width="34.5" height="26.3" fill="#00005d"/><rect x="489.69" y="548.16" width="34.5" height="26.3" fill="#0000b1"/><rect x="526.97" y="548.16" width="34.5" height="26.3" fill="#000054"/><rect x="564.25" y="548.16" width="34.5" height="26.3" fill="#00005d"/><rect x="601.53" y="548.16" width="34.5" height="26.3" fill="#000021"/><rect x="638.81" y="548.16" width="34.5" height="26.3" fill="#00008c"/><rect x="676.09" y="548.16" width="34.5" height="26.3" fill="#9b9b00"/><rect x="713.37" y="548.16" width="34.5" height="26.3" fill="#9b9b00"/><rect x="750.65" y="548.16" width="34.5" height="26.3" fill="#747400"/><rect x="787.93" y="548.16" width="34.5" height="26.3" fill="#000000"/><rect x="825.21" y="548.16" width="34.5" height="26.3" fill="#0000b1"/><rect x="862.49" y="548.16" width="34.5" height="26.3" fill="#00009e"/><rect x="899.77" y="548.16" width="34.5" height="26.3" fill="#000079"/><rect x="937.05" y="548.16" width="34.5" height="26.3" fill="#0000b1"/><rect x="974.33" y="548.16" width="34.5" height="26.3" fill="#00008c"/><rect x="1011.61" y="548.16" width="34.5" height="26.3" fill="#000066"/><rect x="1048.89" y="548.16" width="34.5" height="26.3" fill="#ffff00"/><rect x="1086.17" y="548.16" width="34.5" height="26.3" fill="#ffff00"/><rect x="1123.45" y="548.16" width="34.5" height="26.3" fill="#ffff00"/><rect x="1160.73" y="548.16" width="34.5" height="26.3" fill="#ffff00"/><rect x="1198.01" y="548.16" width="34.5" height="26.3" fill="#000005"/><rect x="1235.29" y="548.16" width="34.5" height="26.3" fill="#0000ba"/><rect x="1272.57" y="548.16" width="34.5" height="26.3" fill="#000013"/><rect x="1309.85" y="548.16" width="34.5" height="26.3" fill="#000095"/></g>
<path d="M165.65,79.1 V98.7 A5.75,6.0 0 0 1 154.15,98.7" fill="none" stroke="#000" stroke-width="4.4"/>
</svg>
<div class="t num" style="left:6.1px;top:39.7px;">0.0</div>
<div class="t num" style="left:657.4px;top:39.7px;">2.0</div>
<div class="t num" style="left:1334.5px;top:39.7px;">4.0</div>
<div class="t grp" style="left:170.50px;top:72.9px;">A</div>
<div class="t grp" style="left:467px;top:72.9px;letter-spacing:0px;">H<span class="sub">2</span><span style="margin-left:1.6px">O</span><span class="sub">2</span></div>
<div class="t grp" style="left:807.3px;top:72.9px;">ABA</div>
<div class="t grp" style="left:1154px;top:72.9px;">SA</div>
<div class="t leg" style="left:1381.9px;top:6.8px;">Relative</div>
<div class="t leg" style="left:1381.9px;top:35.0px;">expression</div>
<div class="t leg" style="left:1381.9px;top:62.0px;">level  E/CK</div>
<div class="t cl" style="left:14.0px;top:227.0px;">0.5H</div>
<div class="t cl" style="left:53.1px;top:227.0px;"><span class="o">1</span>H</div>
<div class="t cl" style="left:87.8px;top:227.0px;">2H</div>
<div class="t cl" style="left:126.6px;top:227.0px;">4H</div>
<div class="t cl" style="left:162.6px;top:227.0px;">6H</div>
<div class="t cl" style="left:201.0px;top:227.0px;">8H</div>
<div class="t cl" style="left:237.2px;top:227.0px;"><span class="o">1</span>0H</div>
<div class="t cl" style="left:273.2px;top:227.0px;"><span class="o">1</span>2H</div>
<div class="t cl" style="left:308.9px;top:227.0px;">24H</div>
<div class="t cl" style="left:350.4px;top:227.0px;">0.5H</div>
<div class="t cl" style="left:389.4px;top:227.0px;"><span class="o">1</span>H</div>
<div class="t cl" style="left:424.4px;top:227.0px;">2H</div>
<div class="t cl" style="left:463.2px;top:227.0px;">4H</div>
<div class="t cl" style="left:499.2px;top:227.0px;">6H</div>
<div class="t cl" style="left:537.7px;top:227.0px;">8H</div>
<div class="t cl" style="left:573.7px;top:227.0px;"><span class="o">1</span>0H</div>
<div class="t cl" style="left:609.3px;top:227.0px;"><span class="o">1</span>2H</div>
<div class="t cl" style="left:645.3px;top:227.0px;">24H</div>
<div class="t cl" style="left:684.9px;top:227.0px;">0.5H</div>
<div class="t cl" style="left:723.7px;top:227.0px;"><span class="o">1</span>H</div>
<div class="t cl" style="left:758.5px;top:227.0px;">2H</div>
<div class="t cl" style="left:797.7px;top:227.0px;">4H</div>
<div class="t cl" style="left:833.7px;top:227.0px;">6H</div>
<div class="t cl" style="left:872.1px;top:227.0px;">8H</div>
<div class="t cl" style="left:908.1px;top:227.0px;"><span class="o">1</span>0H</div>
<div class="t cl" style="left:943.7px;top:227.0px;"><span class="o">1</span>2H</div>
<div class="t cl" style="left:979.7px;top:227.0px;">24H</div>
<div class="t cl" style="left:1022.9px;top:227.0px;">0.5H</div>
<div class="t cl" style="left:1061.6px;top:227.0px;"><span class="o">1</span>H</div>
<div class="t cl" style="left:1096.5px;top:227.0px;">2H</div>
<div class="t cl" style="left:1135.5px;top:227.0px;">4H</div>
<div class="t cl" style="left:1171.6px;top:227.0px;">6H</div>
<div class="t cl" style="left:1210.0px;top:227.0px;">8H</div>
<div class="t cl" style="left:1245.8px;top:227.0px;"><span class="o">1</span>0H</div>
<div class="t cl" style="left:1281.6px;top:227.0px;"><span class="o">1</span>2H</div>
<div class="t cl" style="left:1317.6px;top:227.0px;">24H</div>
<div class="t row" style="top:221.6px;">ZIK<span class="o">1</span></div>
<div class="t row" style="top:252.5px;">MEKK3_2</div>
<div class="t row" style="top:283.7px;">MEKK4_2</div>
<div class="t row" style="top:311.7px;">MEKK5_<span class="o">1</span></div>
<div class="t row" style="top:341.7px;">MEKK<span class="o">1</span>0_<span class="o">1</span></div>
<div class="t row" style="top:373.5px;">MEKK<span class="o">1</span>7</div>
<div class="t row" style="top:405.0px;">MEKK20</div>
<div class="t row" style="top:432.0px;">CTR<span class="o">1</span>_<span class="o">1</span></div>
<div class="t row" style="top:459.1px;">RAF30_<span class="o">1</span></div>
<div class="t row" style="top:491.9px;">RAF3<span class="o">1</span>_<span class="o">1</span></div>
<div class="t row" style="top:522.2px;">RAF32</div>
<div class="t row" style="top:553.1px;">RAF38_3</div>
</body></html>
